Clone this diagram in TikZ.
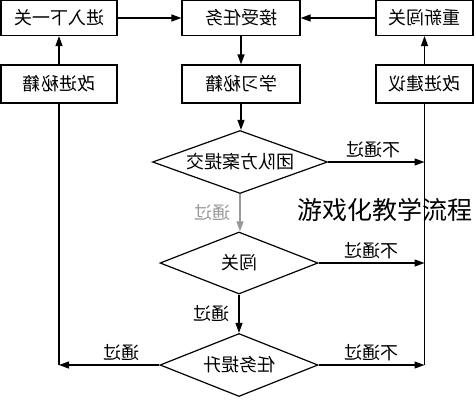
\documentclass[tikz,border=0pt]{standalone}
\usepackage{fontspec}
\newfontfamily\zh{Noto Sans CJK SC}
\usetikzlibrary{positioning,arrows.meta,shapes.geometric}
\newcommand\fliptxt[1]{\reflectbox{#1}}
\tikzset{
  stepbox/.style={draw,line width=1.2pt,inner sep=0pt,font=\zh\fontsize{18}{18}\selectfont},
  gate/.style={draw,diamond,line width=1.2pt,inner sep=0pt,font=\zh\fontsize{18}{18}\selectfont},
  flow/.style={-{Triangle[length=10pt,width=7pt]},line width=1.2pt},
  wire/.style={line width=1.2pt},
  lbl/.style={font=\zh\fontsize{18}{18}\selectfont,inner sep=1pt},
  faded/.style={black!40},
}
\begin{document}
\begin{tikzpicture}[x=1pt,y=-1pt]
  \useasboundingbox (0,0) rectangle (476,400);
  % ---- boxes ----
  \node[stepbox,minimum width=116pt,minimum height=35pt] (enter)   at (59,18)    {\fliptxt{进入下一关}};
  \node[stepbox,minimum width=118pt,minimum height=35pt] (task)    at (241,18)   {\fliptxt{接受任务}};
  \node[stepbox,minimum width=97pt,minimum height=35pt]  (retry)   at (424.5,18) {\fliptxt{重新闯关}};
  \node[stepbox,minimum width=116pt,minimum height=38pt] (improve) at (59,84)    {\fliptxt{改进秘籍}};
  \node[stepbox,minimum width=118pt,minimum height=38pt] (learn)   at (241,84)   {\fliptxt{学习秘籍}};
  \node[stepbox,minimum width=97pt,minimum height=38pt]  (advice)  at (424.5,84) {\fliptxt{改进建议}};
  % ---- decisions ----
  \node[gate,aspect=2.8,minimum width=175pt,minimum height=63pt] (team) at (240,162) {\fliptxt{团队方案提交}};
  \node[gate,aspect=2.55,minimum width=158pt,minimum height=62pt] (pass) at (239,263) {\fliptxt{闯关}};
  \node[gate,aspect=2.5,minimum width=158pt,minimum height=63pt] (rise) at (239,365) {\fliptxt{任务提升}};
  % side rails
  \coordinate (lrail) at (improve.south |- rise.west);
  \coordinate (rrail) at (advice.south |- rise.east);
  \coordinate (rteam) at (advice.south |- team.east);
  \coordinate (rpass) at (advice.south |- pass.east);
  % ---- connectors ----
  \draw[flow] (enter) -- (task);
  \draw[flow] (retry) -- (task);
  \draw[flow] (improve) -- (enter);
  \draw[flow] (advice) -- (retry);
  \draw[flow] (task) -- (learn);
  \draw[flow] (learn.south) -- (learn.south |- team.north);
  \draw[flow,faded] (team.south) -- node[lbl,left=8pt,faded] {\fliptxt{通过}} (team.south |- pass.north);
  \draw[flow] (pass.south) -- node[lbl,left=8pt] {\fliptxt{通过}} (pass.south |- rise.north);
  \draw[flow] (team.east) -- node[lbl,above=3pt,pos=0.47] {\fliptxt{不通过}} (rteam);
  \draw[flow] (pass.east) -- node[lbl,above=3pt,pos=0.5] {\fliptxt{不通过}} (rpass);
  \draw[flow] (rise.east) -- node[lbl,above=3pt,pos=0.5] {\fliptxt{不通过}} (rrail);
  \draw[flow] (rise.west) -- node[lbl,above=3pt,pos=0.38] {\fliptxt{通过}} (lrail);
  \draw[wire] (improve.south) -- (lrail);
  \draw[wire] (advice.south) -- (rrail);
  % caption
  \node[font=\zh\fontsize{25}{25}\selectfont,inner sep=0pt] (title) at (385,210) {游戏化教学流程};
\end{tikzpicture}
\end{document}
